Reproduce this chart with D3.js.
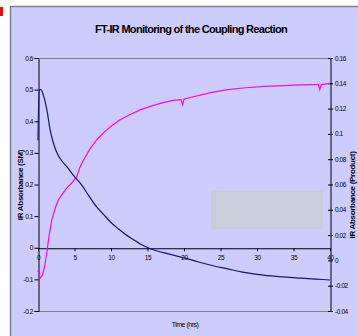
<!DOCTYPE html>
<html>
<head>
<meta charset="utf-8">
<script src="https://cdn.jsdelivr.net/npm/d3@7"></script>
<style>
  body { margin: 0; background: #fff; }
  svg { display: block; font-family: "Liberation Sans", Arial, sans-serif; }
  .tick text { font-size: 6.5px; letter-spacing: -0.4px; fill: #000; }
  .axis-label { font-size: 8px; font-weight: bold; letter-spacing: -0.3px; }
</style>
</head>
<body>
<svg></svg>
<script>
// time (hrs) and absorbance of the starting material (left axis)
const smTime = [0, 0.15, 0.4, 0.7, 1.0, 1.3, 1.6, 2.0, 2.5, 3.0, 4.0, 5.0, 6.0, 7.0, 8.0, 9.0, 10, 11, 12, 13, 14, 15, 16, 18, 20, 22, 24, 26, 28, 30, 32, 34, 36, 38, 40];
const smAbs = [0.34, 0.50, 0.50, 0.485, 0.46, 0.425, 0.38, 0.34, 0.305, 0.283, 0.255, 0.225, 0.198, 0.163, 0.13, 0.105, 0.08, 0.06, 0.042, 0.027, 0.012, 0.001, -0.008, -0.02, -0.032, -0.045, -0.057, -0.067, -0.077, -0.084, -0.089, -0.093, -0.096, -0.099, -0.102];

// time (hrs) and absorbance of the product (right axis)
const prodTime = [0, 0.3, 0.6, 0.9, 1.2, 1.5, 1.9, 2.4, 2.8, 3.4, 3.9, 4.6, 5.3, 5.7, 6.2, 7.1, 8.0, 9.0, 10, 11.2, 12.5, 14, 15.5, 17, 18.5, 19.6, 19.8, 20.0, 21, 22.5, 24, 26, 28.5, 31, 33, 35, 37.5, 38.4, 38.6, 38.8, 40];
const prodAbs = [-0.008, -0.014, -0.012, -0.005, 0.006, 0.019, 0.032, 0.042, 0.048, 0.053, 0.057, 0.061, 0.066, 0.073, 0.079, 0.088, 0.095, 0.101, 0.106, 0.111, 0.115, 0.119, 0.122, 0.1245, 0.1265, 0.127, 0.123, 0.1275, 0.129, 0.131, 0.133, 0.135, 0.1365, 0.1375, 0.138, 0.1385, 0.139, 0.139, 0.135, 0.139, 0.14];

const xTicks = [0, 5, 10, 15, 20, 25, 30, 35, 40];
const leftTicks = [0.6, 0.5, 0.4, 0.3, 0.2, 0.1, 0, -0.1, -0.2];
const leftLabels = ["0.6", "0.5", "0.4", "0.3", "0.2", "0.1", "0", "-0.1", "-0.2"];
const rightTicks = [0.16, 0.14, 0.12, 0.1, 0.08, 0.06, 0.04, 0.02, 0, -0.02, -0.04];
const rightLabels = ["0.16", "0.14", "0.12", "0.1", "0.08", "0.06", "0.04", "0.02", "0", "-0.02", "-0.04"];

const W = 358, H = 336;
const plot = { left: 38, right: 330, top: 58, bottom: 311 };

const svg = d3.select("svg").attr("width", W).attr("height", H);

// chart frame
svg.append("rect")
  .attr("x", 10.5).attr("y", 6.5)
  .attr("width", W).attr("height", H)
  .attr("fill", "#ccccff")
  .attr("stroke", "#7f7f8f").attr("stroke-width", 1.5);

svg.append("rect")
  .attr("x", 0).attr("y", 7).attr("width", 3).attr("height", 9)
  .attr("fill", "#dd1111");

const x = d3.scaleLinear().domain([0, 40]).range([plot.left, plot.right]);
const yL = d3.scaleLinear().domain([-0.2, 0.6]).range([plot.bottom, plot.top]);
const yR = d3.scaleLinear().domain([-0.04, 0.16]).range([plot.bottom, plot.top]);

// plot area border (top / bottom grey)
svg.append("line")
  .attr("x1", plot.left).attr("x2", plot.right)
  .attr("y1", plot.top + 0.5).attr("y2", plot.top + 0.5)
  .attr("stroke", "#808080");
svg.append("line")
  .attr("x1", plot.left).attr("x2", plot.right)
  .attr("y1", plot.bottom + 0.5).attr("y2", plot.bottom + 0.5)
  .attr("stroke", "#808080");

// empty legend box
svg.append("rect")
  .attr("x", 211).attr("y", 191)
  .attr("width", 112).attr("height", 38)
  .attr("fill", "#c9ccd9");

const leftAxis = d3.axisLeft(yL).tickValues(leftTicks)
  .tickFormat((d, i) => leftLabels[i]).tickSize(4).tickPadding(1.5);
svg.append("g").attr("transform", `translate(${plot.left + 0.5},0)`).call(leftAxis)
  .call(g => g.select(".domain").attr("stroke", "#000"));

const rightAxis = d3.axisRight(yR).tickValues(rightTicks)
  .tickFormat((d, i) => rightLabels[i]).tickSizeInner(2.5).tickSizeOuter(0).tickPadding(2);
const gR = svg.append("g").attr("transform", `translate(${plot.right + 0.5},0)`).call(rightAxis);
gR.selectAll(".tick line").attr("x1", -2.5);

const xAxis = d3.axisBottom(x).tickValues(xTicks).tickSize(3).tickSizeOuter(0).tickPadding(4);
const gX = svg.append("g").attr("transform", `translate(0,${yL(0) + 0.5})`).call(xAxis);
gX.select(".domain").attr("stroke", "#000");

const lineSM = d3.line()
  .x((d, i) => x(smTime[i]))
  .y(d => yL(d))
  .curve(d3.curveMonotoneX);
const lineProd = d3.line()
  .x((d, i) => x(prodTime[i]))
  .y(d => yR(d));

svg.append("path")
  .attr("d", lineProd(prodAbs))
  .attr("fill", "none")
  .attr("stroke", "#ff00ff")
  .attr("stroke-width", 1.2);

svg.append("path")
  .attr("d", lineSM(smAbs))
  .attr("fill", "none")
  .attr("stroke", "#141482")
  .attr("stroke-width", 1.2);

svg.append("text")
  .attr("x", 191).attr("y", 33)
  .attr("text-anchor", "middle")
  .attr("font-size", 11).attr("font-weight", "bold")
  .attr("letter-spacing", "-0.7px")
  .text("FT-IR Monitoring of the Coupling Reaction");

svg.append("text")
  .attr("class", "axis-label")
  .attr("transform", `translate(23,185) rotate(-90)`)
  .attr("text-anchor", "middle")
  .text("IR Absorbance (SM)");

svg.append("text")
  .attr("class", "axis-label")
  .attr("transform", `translate(355,195) rotate(-90)`)
  .attr("text-anchor", "middle")
  .text("IR Absorbance (Product)");

svg.append("text")
  .attr("x", 185).attr("y", 327)
  .attr("text-anchor", "middle")
  .attr("font-size", 7)
  .attr("letter-spacing", "-0.5px")
  .text("Time (hrs)");
</script>
</body>
</html>
